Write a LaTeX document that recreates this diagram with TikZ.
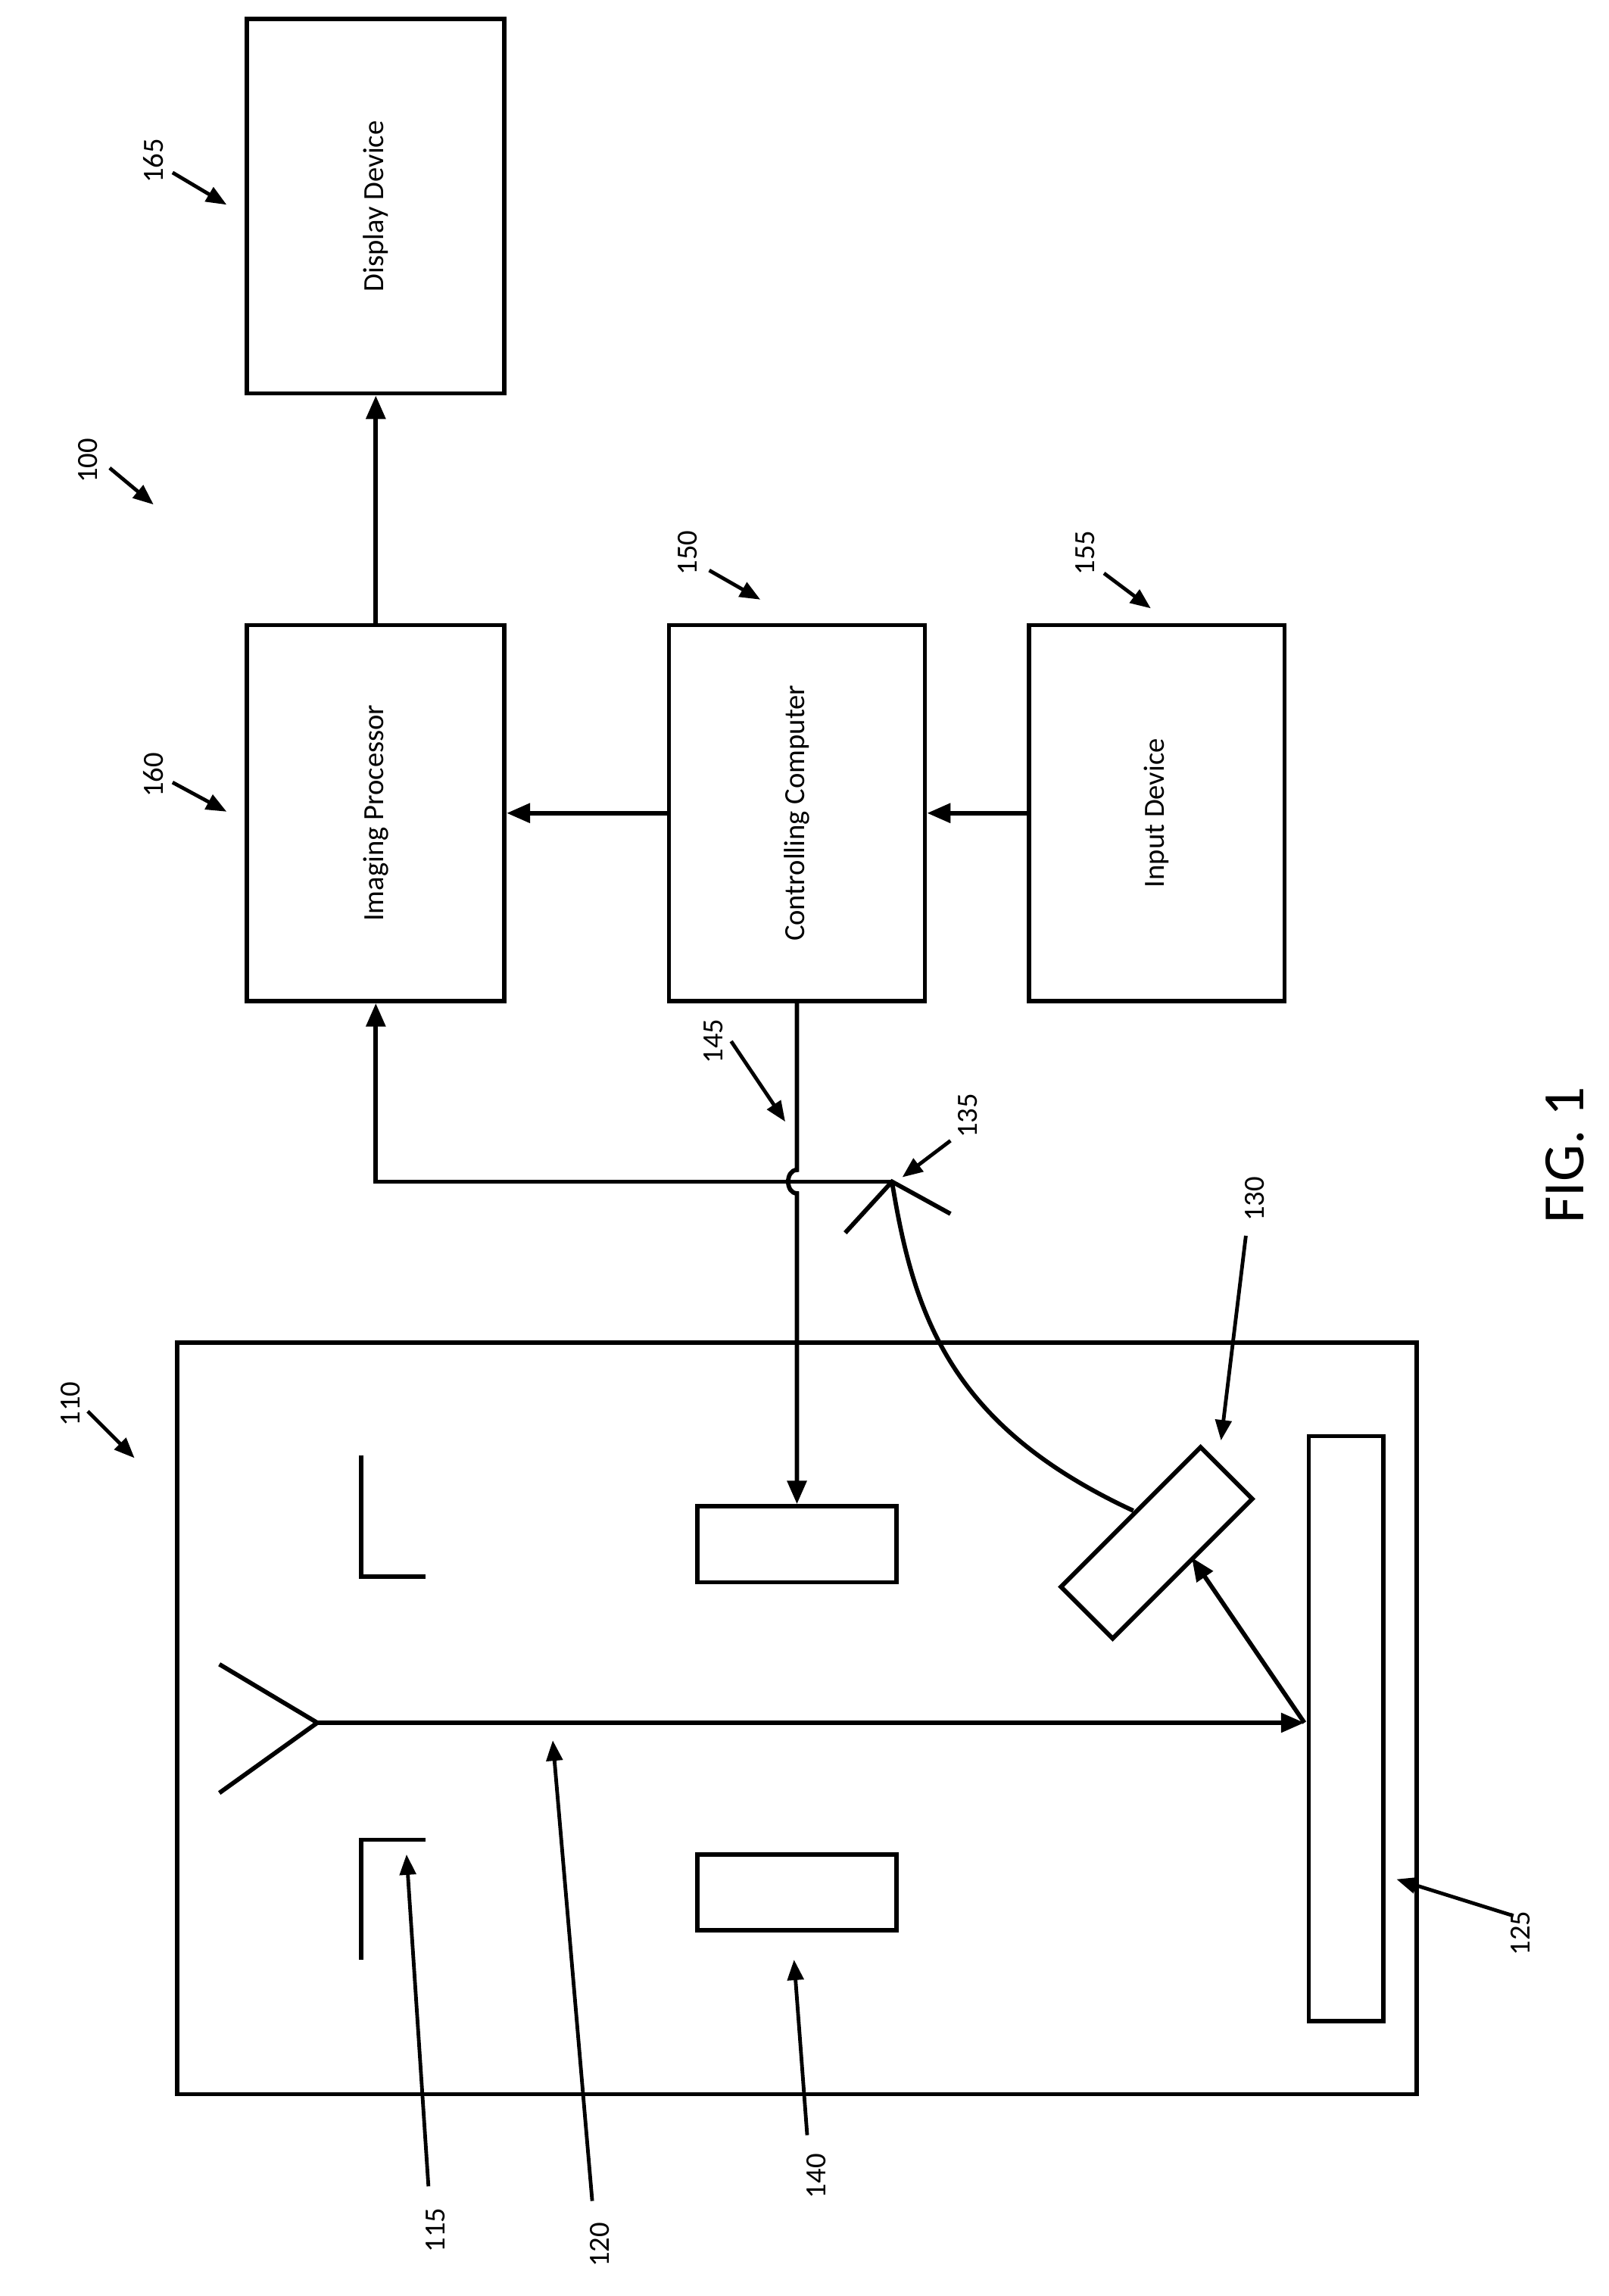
\documentclass[tikz,border=0pt]{standalone}
\usepackage{fontspec}
\setmainfont{Carlito}
\usetikzlibrary{arrows.meta}
\begin{document}
\begin{tikzpicture}[x=1pt,y=-1pt,
 box/.style={draw,line width=3pt,inner sep=0pt},
 lbl/.style={rotate=90,font=\fontsize{20}{22}\selectfont},
 arr/.style={line width=3pt,-{Triangle[length=16pt,width=13pt]}},
 tag/.style={rotate=90,font=\fontsize{20}{22}\selectfont},
 tarr/.style={line width=2.5pt,-{Triangle[length=14pt,width=11pt]}},
 ln/.style={line width=3pt}]
\useasboundingbox (0,0) rectangle (1100,1570);
\node[box,minimum width=176pt,minimum height=256pt] (disp) at (257,141) {};
\node[lbl] at (disp) {Display Device};
\node[box,minimum width=176pt,minimum height=257pt] (ip) at (257,556) {};
\node[lbl] at (ip) {Imaging Processor};
\node[box,minimum width=175pt,minimum height=257pt] (cc) at (545,556) {};
\node[lbl] at (cc) {Controlling Computer};
\node[box,minimum width=175pt,minimum height=257pt] (id) at (791,556) {};
\node[lbl] at (id) {Input Device};
\draw[arr] (ip.north) -- (disp.south);
\draw[arr] (cc.west) -- (ip.east);
\draw[arr] (id.west) -- (cc.east);
% chamber
\node[box,minimum width=848pt,minimum height=514pt] (ch) at (545,1175) {};
\node[box,minimum width=136pt,minimum height=52pt] (r1) at (545,1056) {};
\node[box,minimum width=136pt,minimum height=52pt] (r2) at (545,1294) {};
\node[box,minimum width=51pt,minimum height=400pt] (scr) at (920.5,1182) {};
\node[box,minimum width=135pt,minimum height=50pt,rotate=45] (det) at (791,1055) {};
\coordinate (j135) at (610,808);
\coordinate (src) at (217,1178);
\coordinate (hit) at (892,1178);
\draw[ln] (247,995) -- (247,1078) -- (291,1078);
\draw[ln] (291,1258) -- (247,1258) -- (247,1340);
\draw[ln] (150,1138) -- (src) -- (150,1226);
\draw[arr] (src) -- (hit);
\draw[arr] (hit) -- (815,1065);
\draw[ln] (578,843) -- (j135) -- (650,830);
\draw[ln] (775,1033) .. controls (650,975) and (625,900) .. (j135);
\draw[arr] (j135) -- (257,808) -- (ip.south);
\draw[arr] (cc.south) -- (545,800) .. controls (537,800) and (537,816) .. (545,816) -- (r1.north);
% labels
\node[tag] at (105,110) {165}; \draw[tarr] (118,118) -- (155,140);
\node[tag] at (60,315) {100}; \draw[tarr] (75,320) -- (105,345);
\node[tag] at (105,530) {160}; \draw[tarr] (118,535) -- (155,555);
\node[tag] at (470,378) {150}; \draw[tarr] (485,390) -- (520,410);
\node[tag] at (742,378) {155}; \draw[tarr] (755,392) -- (787,416);
\node[tag] at (488,712) {145}; \draw[tarr] (500,712) -- (537,767);
\node[tag] at (662,763) {135}; \draw[tarr] (650,780) -- (617,805);
\node[tag] at (858,820) {130}; \draw[tarr] (852,845) -- (835,985);
\node[tag] at (48,960) {110}; \draw[tarr] (60,965) -- (92,997);
\node[tag] at (298,1525) {115}; \draw[tarr] (293,1495) -- (278,1268);
\node[tag] at (410,1535) {120}; \draw[tarr] (405,1505) -- (378,1190);
\node[tag] at (558,1488) {140}; \draw[tarr] (552,1460) -- (543,1340);
\node[tag] at (1040,1322) {125}; \draw[tarr] (1035,1310) -- (955,1285);
\node[rotate=90,font=\fontsize{40}{44}\selectfont] at (1070,790) {FIG. 1};
\end{tikzpicture}
\end{document}
